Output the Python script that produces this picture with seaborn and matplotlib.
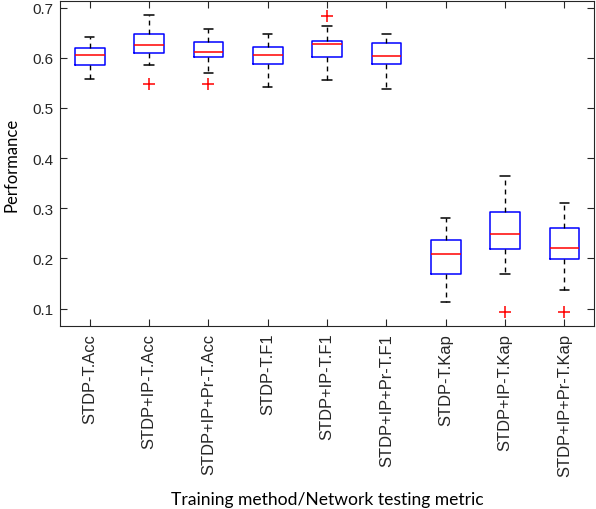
import numpy as np
import pandas as pd
import matplotlib
matplotlib.use("Agg")
import matplotlib.pyplot as plt
import seaborn as sns

# categories (training method / testing metric)
methods = ["STDP-T.Acc", "STDP+IP-T.Acc", "STDP+IP+Pr-T.Acc",
           "STDP-T.F1", "STDP+IP-T.F1", "STDP+IP+Pr-T.F1",
           "STDP-T.Kap", "STDP+IP-T.Kap", "STDP+IP+Pr-T.Kap"]

# per-method samples (whisker ends, quartiles, median, outliers)
s_acc_stdp = [0.558, 0.575, 0.585, 0.595, 0.605, 0.612, 0.619, 0.630, 0.641]
s_acc_ip = [0.548, 0.585, 0.610, 0.618, 0.626, 0.636, 0.647, 0.665, 0.685]
s_acc_pr = [0.548, 0.569, 0.601, 0.606, 0.611, 0.620, 0.631, 0.645, 0.657]
s_f1_stdp = [0.542, 0.565, 0.587, 0.596, 0.605, 0.613, 0.621, 0.634, 0.647]
s_f1_ip = [0.556, 0.580, 0.601, 0.615, 0.628, 0.630, 0.633, 0.663, 0.684]
s_f1_pr = [0.538, 0.562, 0.587, 0.595, 0.603, 0.616, 0.629, 0.638, 0.647]
s_kap_stdp = [0.113, 0.140, 0.169, 0.188, 0.208, 0.222, 0.236, 0.258, 0.280]
s_kap_ip = [0.094, 0.169, 0.219, 0.234, 0.248, 0.270, 0.292, 0.330, 0.365]
s_kap_pr = [0.094, 0.137, 0.199, 0.210, 0.221, 0.240, 0.260, 0.285, 0.310]

samples = [s_acc_stdp, s_acc_ip, s_acc_pr, s_f1_stdp, s_f1_ip, s_f1_pr,
           s_kap_stdp, s_kap_ip, s_kap_pr]

rows = []
for m, vals in zip(methods, samples):
    for v in vals:
        rows.append({"method": m, "perf": v})
df = pd.DataFrame(rows)

sns.set_theme(style="white")
plt.rcParams["font.family"] = ["Liberation Sans", "DejaVu Sans"]

fig = plt.figure(figsize=(5.96, 5.10), dpi=100)
ax = fig.add_axes([0.1007, 0.359, 0.896, 0.637])

sns.boxplot(data=df, x="method", y="perf", order=methods, ax=ax,
            width=0.5, fill=False, color="blue", linewidth=1.1, whis=1.5,
            medianprops={"color": "red", "linewidth": 1.1},
            whiskerprops={"color": "black", "linestyle": (0, (3.5, 3)), "linewidth": 1.0},
            capprops={"color": "black", "linewidth": 1.1},
            flierprops={"marker": "+", "markeredgecolor": "red", "markersize": 9,
                        "markeredgewidth": 1.1})

# narrower caps like the original
for cont in ax.containers:
    if hasattr(cont, "caps"):
        for cap in cont.caps:
            xd = cap.get_xdata()
            c = np.mean(xd)
            cap.set_xdata([c - 0.08, c + 0.08])

ax.set_xlim(-0.5, len(methods) - 0.5)
ax.set_ylim(0.0655, 0.713)
ax.set_yticks([0.1, 0.2, 0.3, 0.4, 0.5, 0.6, 0.7])
ax.set_yticklabels(["0.1", "0.2", "0.3", "0.4", "0.5", "0.6", "0.7"])
ax.set_xticks(range(len(methods)))
ax.set_xticklabels(methods, rotation=90)

grey = "#262626"
for sp in ax.spines.values():
    sp.set_color(grey)
    sp.set_linewidth(0.8)
ax.tick_params(axis="both", direction="in", length=5, width=0.8, color=grey,
               labelcolor=grey, top=True, right=True, bottom=True, left=True)
ax.tick_params(axis="y", labelsize=11, pad=5)
ax.tick_params(axis="x", labelsize=11.9, pad=5)

ax.set_xlabel("Training method/Network testing metric", family=["Lato", "DejaVu Sans"],
              fontsize=12.6, color="black", labelpad=11)
ax.set_ylabel("Performance", family=["Lato", "DejaVu Sans"], fontsize=12,
              color="black", labelpad=9)

fig.savefig("out.png", dpi=100)
